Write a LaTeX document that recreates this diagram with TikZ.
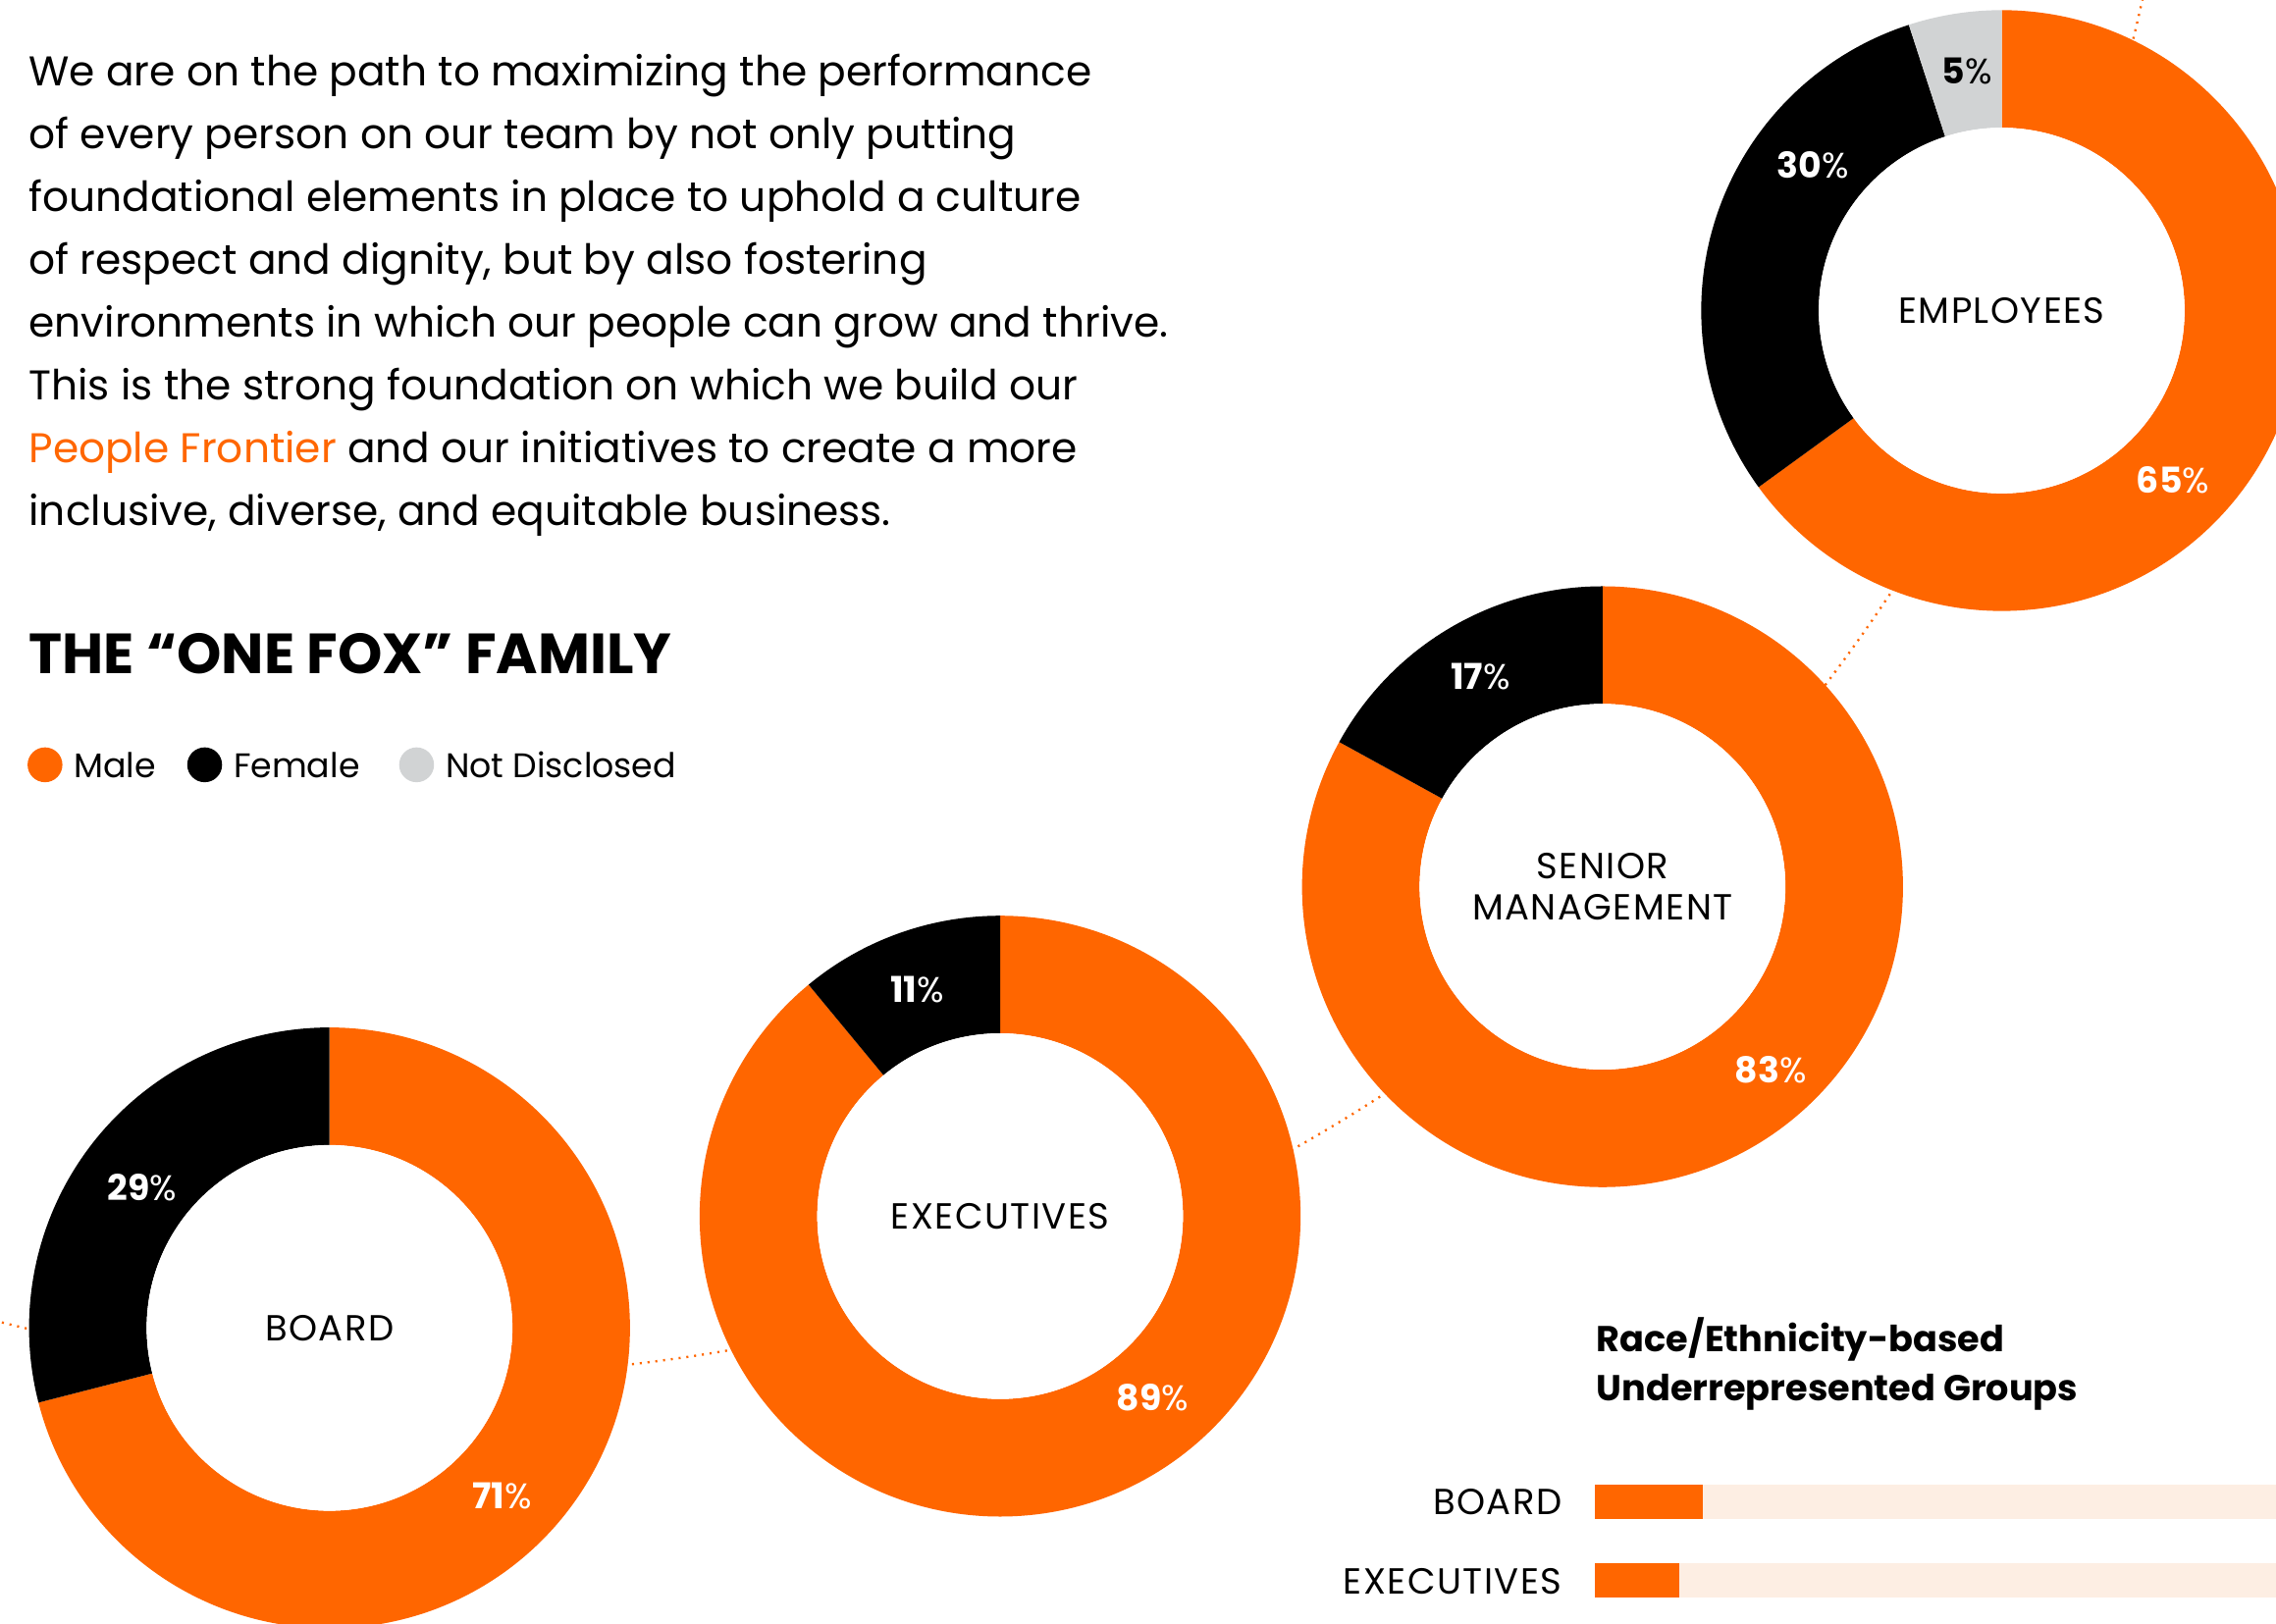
\documentclass[tikz,border=0pt]{standalone}
\usepackage{fontspec}
\setmainfont{Poppins}
\usepackage{xcolor}
\usetikzlibrary{positioning}
\definecolor{foxorange}{HTML}{FF6600}
\definecolor{foxgray}{HTML}{D1D3D4}
\definecolor{foxpeach}{HTML}{FDEEE3}
\begin{document}
\begin{tikzpicture}[x=1pt, y=1pt,
    every node/.style={inner sep=0pt, outer sep=0pt},
    bodytext/.style={anchor=base west, font=\fontsize{28.6}{32}\selectfont},
    heading/.style={anchor=base west, font=\fontsize{39}{44}\selectfont\bfseries},
    legenddot/.style={circle, minimum size=24pt},
    legendtext/.style={anchor=west, font=\fontsize{23.5}{27}\selectfont},
    ringname/.style={align=center, font=\fontsize{25}{28}\selectfont\addfontfeatures{LetterSpace=4}},
    share/.style={text=white, font=\fontsize{24.5}{28}\selectfont},
    barname/.style={anchor=east, font=\fontsize{25}{28}\selectfont\addfontfeatures{LetterSpace=4}},
    trail/.style={foxorange, line width=1.6pt, dash pattern=on 1.4pt off 4pt}]
\useasboundingbox (0,0) rectangle (1568,1119);
\clip (0,0) rectangle (1568,1119);

% intro text
\foreach \t [count=\i] in {
    {We are on the path to maximizing the performance},
    {of every person on our team by not only putting},
    {foundational elements in place to uphold a culture},
    {of respect and dignity, but by also fostering},
    {environments in which our people can grow and thrive.},
    {This is the strong foundation on which we build our},
    {\textcolor{foxorange}{People Frontier} and our initiatives to create a more},
    {inclusive, diverse, and equitable business.}}
  \node[bodytext] (line\i) at (20,1059.5-43.2*\i+43.2) {\t};

\node[heading] (title) at (20,655) {THE “ONE FOX” FAMILY};

% legend
\node[legenddot, fill=foxorange] (maledot) at (31,592) {};
\node[legendtext, right=8pt of maledot] (male) {Male};
\node[legenddot, fill=black] (femaledot) at (141,592) {};
\node[legendtext, right=8pt of femaledot] (female) {Female};
\node[legenddot, fill=foxgray] (nddot) at (287,592) {};
\node[legendtext, right=8pt of nddot] (nd) {Not Disclosed};

% dotted trail behind the rings
\coordinate (hub) at (297,1378);
\draw[trail] (hub) ++(-107:1207pt) arc[start angle=-107, end angle=-8, radius=1207pt];

\coordinate (boardc) at (227,204);
\coordinate (execc) at (689,281);
\coordinate (seniorc) at (1104,508);
\coordinate (empc) at (1379,905);

% ring segments
\foreach \c/\a/\b/\col in {
    boardc/90/-165.6/foxorange, boardc/-165.6/-270/black,
    execc/90/-230.4/foxorange, execc/-230.4/-270/black,
    seniorc/90/-208.8/foxorange, seniorc/-208.8/-270/black,
    empc/90/-144/foxorange, empc/-144/-252/black, empc/-252/-270/foxgray}
  \fill[\col] (\c) ++(\a:207pt) arc[start angle=\a, end angle=\b, radius=207pt]
    -- ++(\b+180:81pt) arc[start angle=\b, end angle=\a, radius=126pt] -- cycle;
\foreach \c in {boardc, execc, seniorc, empc}
  \fill[white] (\c) circle[radius=126pt];

\node[ringname] (board) at (boardc) {BOARD};
\node[ringname] (exec) at (execc) {EXECUTIVES};
\node[ringname] (senior) at (seniorc) {SENIOR\\MANAGEMENT};
\node[ringname] (emp) at (empc) {EMPLOYEES};

\node[share] (boardf) at (98,301) {\textbf{29}\%};
\node[share] (boardm) at (346,88) {\textbf{71}\%};
\node[share] (execf) at (632,437) {\textbf{11}\%};
\node[share] (execm) at (794,156) {\textbf{89}\%};
\node[share] (seniorf) at (1020,653) {\textbf{17}\%};
\node[share] (seniorm) at (1220,382) {\textbf{83}\%};
\node[share] (empf) at (1249,1005) {\textbf{30}\%};
\node[share] (empm) at (1497,788) {\textbf{65}\%};
\node[share, text=black] (empn) at (1355,1070) {\textbf{5}\%};

% underrepresented groups
\node[anchor=west, align=left, font=\fontsize{24.8}{34}\selectfont\bfseries] (urg) at (1100,179)
  {Race/Ethnicity-based\\Underrepresented Groups};
\fill[foxpeach] (1099,72) rectangle (1568,96);
\fill[foxorange] (1099,72) rectangle (1173,96);
\fill[foxpeach] (1099,18) rectangle (1568,42);
\fill[foxorange] (1099,18) rectangle (1157,42);
\node[barname] (boardbar) at (1076,84) {BOARD};
\node[barname] (execbar) at (1076,29) {EXECUTIVES};
\end{tikzpicture}
\end{document}
